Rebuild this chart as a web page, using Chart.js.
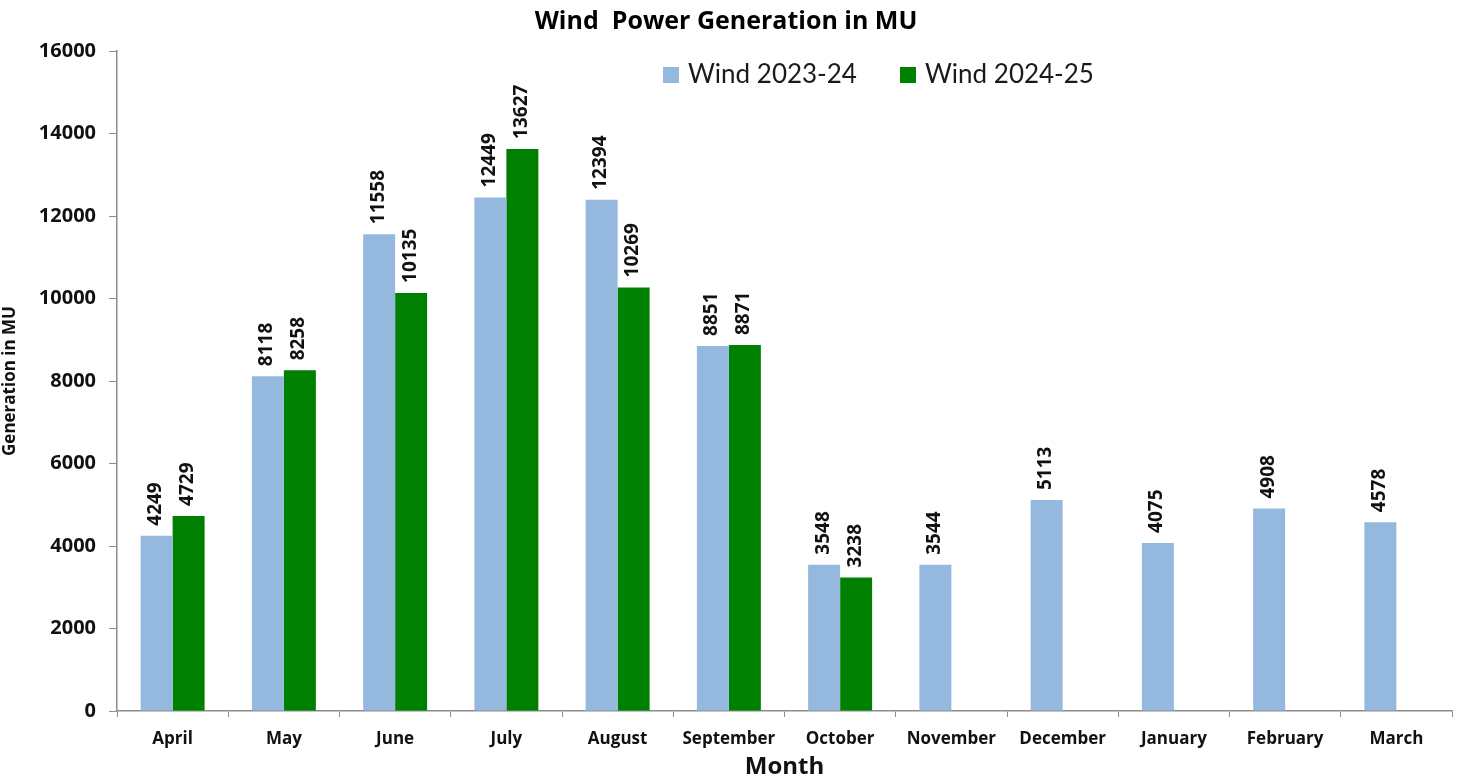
<!DOCTYPE html>
<html>
<head>
<meta charset="utf-8">
<script src="https://cdn.jsdelivr.net/npm/chart.js@4/dist/chart.umd.min.js"></script>
<style>
  html, body { margin: 0; padding: 0; background: #fff; }
  #wrap { width: 1468px; height: 783px; position: relative; }
</style>
</head>
<body>
<div id="wrap"><canvas id="grafico"></canvas></div>
<script>
const months = ['April', 'May', 'June', 'July', 'August', 'September', 'October',
    'November', 'December', 'January', 'February', 'March'];
const wind2324 = [4249, 8118, 11558, 12449, 12394, 8851, 3548, 3544, 5113, 4075, 4908, 4578];
const wind2425 = [4729, 8258, 10135, 13627, 10269, 8871, 3238, null, null, null, null, null];
const yTicks = [0, 2000, 4000, 6000, 8000, 10000, 12000, 14000, 16000];

const axisColor = '#8c8c8c';
const boldFont = 'Open Sans';

// value labels written upright above each bar
const barLabels = {
    id: 'barLabels',
    afterDatasetsDraw(chart) {
        const ctx = chart.ctx;
        ctx.save();
        ctx.font = 'bold 19px ' + boldFont;
        ctx.fillStyle = '#111';
        ctx.textAlign = 'left';
        ctx.textBaseline = 'middle';
        chart.data.datasets.forEach((ds, i) => {
            chart.getDatasetMeta(i).data.forEach((bar, j) => {
                const v = ds.data[j];
                if (v === null || v === undefined) return;
                ctx.save();
                ctx.translate(bar.x - 1, bar.y - 10);
                ctx.rotate(-Math.PI / 2);
                ctx.fillText(String(v), 0, 0);
                ctx.restore();
            });
        });
        ctx.restore();
    }
};

// legend drawn inside the plot, upper right
const innerLegend = {
    id: 'innerLegend',
    afterDraw(chart) {
        const ctx = chart.ctx;
        const a = chart.chartArea;
        let x = a.left + 546;
        const y = a.top + 24;
        ctx.save();
        ctx.font = '26px Lato';
        ctx.textBaseline = 'middle';
        ctx.textAlign = 'left';
        chart.data.datasets.forEach(ds => {
            ctx.fillStyle = ds.backgroundColor;
            ctx.fillRect(x, y - 8, 16, 16);
            ctx.fillStyle = '#1a1a1a';
            ctx.fillText(ds.label, x + 25, y);
            x += 237;
        });
        ctx.restore();
    }
};

new Chart(document.getElementById('grafico').getContext('2d'), {
    type: 'bar',
    data: {
        labels: months,
        datasets: [
            { label: 'Wind 2023-24', data: wind2324, backgroundColor: '#95b8df' },
            { label: 'Wind 2024-25', data: wind2425, backgroundColor: '#008000' }
        ]
    },
    options: {
        responsive: true,
        maintainAspectRatio: false,
        animation: false,
        layout: { padding: { top: 0, right: 16, bottom: 0, left: 0 } },
        datasets: { bar: { categoryPercentage: 0.575, barPercentage: 1.0 } },
        plugins: {
            legend: { display: false },
            tooltip: { enabled: false },
            title: {
                display: true,
                text: 'Wind  Power Generation in MU',
                color: '#000',
                font: { family: boldFont, size: 25, weight: 'bold' },
                padding: { top: 7, bottom: 14 }
            }
        },
        scales: {
            x: {
                offset: true,
                afterFit: s => { s.height = 72; },
                grid: { display: true, offset: true, drawOnChartArea: false, drawTicks: true, tickLength: 6, color: axisColor },
                border: { color: axisColor, width: 1.5 },
                ticks: { color: '#111', padding: 12, font: { family: boldFont, size: 17, weight: 'bold' } },
                title: {
                    display: true, text: 'Month', color: '#111',
                    font: { family: boldFont, size: 24, weight: 'bold' },
                    padding: { top: 0, bottom: 1 }
                }
            },
            y: {
                min: 0,
                max: 16000,
                afterFit: s => { s.width = 117; },
                afterBuildTicks: s => { s.ticks = yTicks.map(v => ({ value: v })); },
                grid: { display: true, drawOnChartArea: false, drawTicks: true, tickLength: 8, color: axisColor },
                border: { color: axisColor, width: 1.5 },
                ticks: {
                    color: '#111', padding: 13,
                    font: { family: boldFont, size: 20, weight: 'bold' },
                    callback: v => String(v)
                },
                title: {
                    display: true, text: 'Generation in MU', color: '#111',
                    font: { family: boldFont, size: 17, weight: 'bold' },
                    padding: { top: 0, bottom: 0 }
                }
            }
        }
    },
    plugins: [barLabels, innerLegend]
});
</script>
</body>
</html>
